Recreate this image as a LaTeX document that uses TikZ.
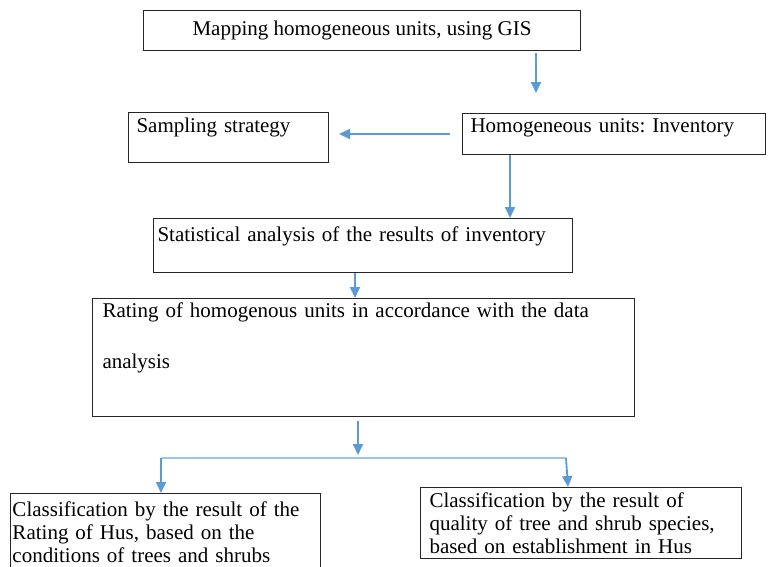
\documentclass[tikz,border=0pt]{standalone}
\usepackage{fontspec}
\setmainfont{Liberation Serif}
\usetikzlibrary{arrows.meta}
\definecolor{arrowblue}{HTML}{5B9BD5}
\definecolor{forkblue}{HTML}{9DC3E6}
\frenchspacing
\begin{document}
\begin{tikzpicture}[x=1pt,y=-1pt,
		box/.style={draw=black!85,line width=1pt,anchor=north west,align=left,inner xsep=8pt,inner ysep=4pt,font=\fontsize{21}{23}\selectfont},
		arr/.style={-{Triangle[width=10pt,length=11pt]},draw=arrowblue,fill=arrowblue,line width=1.8pt},
		fork/.style={draw=forkblue,line width=1.5pt}]
	\useasboundingbox (0,0) rectangle (769,566);
	\clip (0,0) rectangle (769,566);
	\node[box,minimum width=437pt,minimum height=40pt,align=center] (map) at (143,10) {Mapping homogeneous units, using GIS};
	\node[box,text width=287pt,text height=15pt,text depth=18pt] (inv) at (462,113) {Homogeneous units: Inventory};
	\node[box,text width=184pt,text height=16pt,text depth=26pt] (samp) at (128,112) {Sampling strategy};
	\node[box,inner xsep=4pt,text width=411pt,text height=19pt,text depth=27pt] (stat) at (153,218) {Statistical analysis of the results of inventory};
	\node[box,inner xsep=10pt,text width=522pt,minimum height=118pt] (rate) at (92,298) {Rating of homogenous units in accordance with the data\\[28pt]analysis\\[20pt]\mbox{}};
	\node[box,inner xsep=2pt,inner ysep=8pt,text width=306pt] (class1) at (10,493) {Classification by the result of the\\Rating of Hus, based on the\\conditions of trees and shrubs};
	\node[box,inner xsep=9pt,inner ysep=5pt,text width=303pt] (class2) at (420,487) {Classification by the result of\\quality of tree and shrub species,\\based on establishment in Hus};
	\coordinate (a1) at (536,93);
	\coordinate (fork) at (358,458);
	\coordinate (forkl) at (161,458);
	\coordinate (forkr) at (566,458);
	\draw[arr,shorten <=2pt] (map.south -| a1) -- (a1);
	\draw[arr,shorten <=12pt,shorten >=10pt] (inv.west) -- (inv.west -| samp.east);
	\draw[arr] (inv.south -| 510,0) -- (stat.north -| 510,0);
	\draw[arr] (stat.south -| 355,0) -- (rate.north -| 355,0);
	\draw[arr,shorten <=4pt,shorten >=3pt] (rate.south -| fork) -- (fork);
	\draw[fork] (forkl) -- (forkr);
	\draw[arr] (forkl) -- (forkl |- class1.north);
	\draw[arr] (forkr) -- (class2.north -| 568,0);
\end{tikzpicture}
\end{document}
